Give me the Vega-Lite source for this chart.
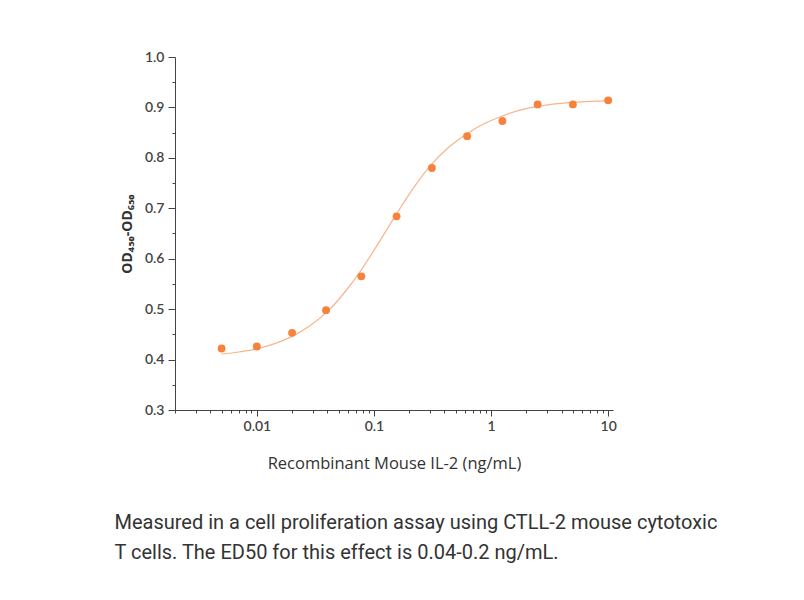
{
  "$schema": "https://vega.github.io/schema/vega-lite/v6.json",
  "autosize": "none",
  "padding": {"left": 175, "top": 57, "right": 191, "bottom": 190},
  "width": 438,
  "height": 353,
  "background": "white",
  "config": {"view": {"stroke": null}},
  "title": {
    "text": ["Measured in a cell proliferation assay using CTLL-2 mouse cytotoxic", "T cells. The ED50 for this effect is 0.04-0.2 ng/mL."],
    "orient": "bottom",
    "anchor": "start",
    "frame": "bounds",
    "font": "Roboto",
    "fontSize": 20,
    "fontWeight": "normal",
    "color": "#333333",
    "lineHeight": 30,
    "offset": 41,
    "dx": -6
  },
  "datasets": {
    "points": [
      {"conc": 0.005, "od": 0.422},
      {"conc": 0.01, "od": 0.426},
      {"conc": 0.02, "od": 0.453},
      {"conc": 0.039, "od": 0.498},
      {"conc": 0.078, "od": 0.565},
      {"conc": 0.156, "od": 0.684},
      {"conc": 0.3125, "od": 0.780},
      {"conc": 0.625, "od": 0.843},
      {"conc": 1.25, "od": 0.873},
      {"conc": 2.5, "od": 0.906},
      {"conc": 5, "od": 0.906},
      {"conc": 10, "od": 0.914}
    ],
    "fit": [
      {"conc": 0.005, "od": 0.411},
      {"conc": 0.007, "od": 0.415},
      {"conc": 0.01, "od": 0.421},
      {"conc": 0.014, "od": 0.431},
      {"conc": 0.02, "od": 0.446},
      {"conc": 0.028, "od": 0.466},
      {"conc": 0.04, "od": 0.495},
      {"conc": 0.056, "od": 0.533},
      {"conc": 0.078, "od": 0.578},
      {"conc": 0.11, "od": 0.632},
      {"conc": 0.156, "od": 0.689},
      {"conc": 0.22, "od": 0.742},
      {"conc": 0.3125, "od": 0.788},
      {"conc": 0.44, "od": 0.822},
      {"conc": 0.625, "od": 0.848},
      {"conc": 0.88, "od": 0.868},
      {"conc": 1.25, "od": 0.883},
      {"conc": 1.8, "od": 0.895},
      {"conc": 2.5, "od": 0.902},
      {"conc": 3.5, "od": 0.907},
      {"conc": 5, "od": 0.910},
      {"conc": 7, "od": 0.912},
      {"conc": 10, "od": 0.913}
    ]
  },
  "encoding": {
    "x": {
      "field": "conc",
      "type": "quantitative",
      "scale": {"type": "log", "domain": [0.002, 11], "nice": false},
      "axis": {
        "title": "Recombinant Mouse IL-2 (ng/mL)",
        "titleFont": "Open Sans",
        "titleFontSize": 16.5,
        "titleFontWeight": "normal",
        "titleColor": "#333333",
        "titlePadding": 22,
        "values": [0.002, 0.003, 0.004, 0.005, 0.006, 0.007, 0.008, 0.009, 0.01, 0.02, 0.03, 0.04, 0.05, 0.06, 0.07, 0.08, 0.09, 0.1, 0.2, 0.3, 0.4, 0.5, 0.6, 0.7, 0.8, 0.9, 1, 2, 3, 4, 5, 6, 7, 8, 9, 10],
        "labelExpr": "datum.value == 0.01 ? '0.01' : datum.value == 0.1 ? '0.1' : datum.value == 1 ? '1' : datum.value == 10 ? '10' : ''",
        "labelOverlap": false,
        "labelFont": "Lato",
        "labelFontSize": 14,
        "labelFontWeight": 600,
        "labelColor": "#444444",
        "labelPadding": 3,
        "tickSize": {"condition": {"test": "datum.value == 0.01 || datum.value == 0.1 || datum.value == 1 || datum.value == 10", "value": 6}, "value": 3},
        "tickColor": "#444444",
        "domainColor": "#444444",
        "grid": false
      }
    },
    "y": {
      "field": "od",
      "type": "quantitative",
      "scale": {"domain": [0.3, 1.0], "nice": false, "zero": false},
      "axis": {
        "title": "OD₄₅₀-OD₆₅₀",
        "titleFont": "Open Sans",
        "titleFontSize": 14,
        "titleFontWeight": "bold",
        "titleColor": "#333333",
        "titlePadding": 10,
        "values": [0.3, 0.35, 0.4, 0.45, 0.5, 0.55, 0.6, 0.65, 0.7, 0.75, 0.8, 0.85, 0.9, 0.95, 1.0],
        "format": ".1f",
        "labelExpr": "round(datum.value * 100) % 10 == 0 ? datum.label : ''",
        "labelOverlap": false,
        "labelFont": "Lato",
        "labelFontSize": 14,
        "labelFontWeight": 600,
        "labelColor": "#444444",
        "labelPadding": 4,
        "tickSize": {"condition": {"test": "round(datum.value * 100) % 10 == 0", "value": 7}, "value": 3},
        "tickColor": "#444444",
        "domainColor": "#444444",
        "grid": false
      }
    }
  },
  "layer": [
    {
      "data": {"name": "fit"},
      "mark": {"type": "line", "interpolate": "monotone", "color": "#F9B48A", "strokeWidth": 1.2}
    },
    {
      "data": {"name": "points"},
      "mark": {"type": "circle", "size": 62, "color": "#F7823C", "opacity": 1}
    }
  ]
}
